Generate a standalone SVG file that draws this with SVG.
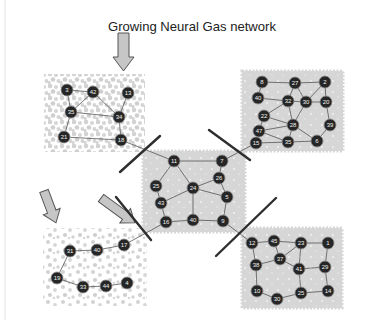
<svg xmlns="http://www.w3.org/2000/svg" width="371" height="320" viewBox="0 0 371 320">
<defs>
<pattern id="sparse" width="12" height="12" patternUnits="userSpaceOnUse">
<circle cx="2" cy="2" r="2.3" fill="#d2d2d2"/><circle cx="8" cy="3" r="2.1" fill="#d6d6d6"/><circle cx="5" cy="7.5" r="2.3" fill="#cfcfcf"/><circle cx="10.5" cy="9" r="2" fill="#d4d4d4"/><circle cx="1" cy="10.5" r="1.8" fill="#d6d6d6"/>
</pattern>
<pattern id="sparse2" width="15" height="15" patternUnits="userSpaceOnUse">
<circle cx="3" cy="2" r="2" fill="#d2d2d2"/><circle cx="10" cy="5" r="1.9" fill="#d6d6d6"/><circle cx="5" cy="10" r="2.1" fill="#cfcfcf"/><circle cx="13" cy="12" r="1.7" fill="#d4d4d4"/><circle cx="9" cy="13" r="1.3" fill="#d8d8d8"/>
</pattern>
<pattern id="dense" width="11" height="11" patternUnits="userSpaceOnUse">
<rect width="11" height="11" fill="#d6d6d6"/><circle cx="3" cy="4" r="0.9" fill="#f4f4f4"/><circle cx="8" cy="9" r="0.7" fill="#eeeeee"/>
</pattern>
</defs>
<style>
.e{stroke:#555;stroke-width:0.8;fill:none}
.cut{stroke:#2e2e2e;stroke-width:2.4;stroke-linecap:round}
.arrow{fill:#c6c6c6;stroke:#555;stroke-width:1}
.rag{stroke:#d6d6d6;stroke-width:3;stroke-dasharray:2 1.5}
.n circle{fill:#262626;stroke:#8a8a8a;stroke-width:0.8}
.n text{fill:#f0f0f0;font-family:"Liberation Sans",Arial,sans-serif;font-size:6px;text-anchor:middle;dominant-baseline:central}
.title{font-family:"Liberation Sans",Arial,sans-serif;font-size:13px;fill:#222;text-anchor:middle}
</style>
<rect width="371" height="320" fill="#ffffff"/>
<line x1="5" y1="0" x2="5" y2="320" stroke="#e2e2e2" stroke-width="1"/>
<text class="title" x="192" y="31" textLength="168" lengthAdjust="spacingAndGlyphs">Growing Neural Gas network</text>

<g id="regions">
<rect x="44" y="74" width="101" height="78" fill="url(#sparse)"/>
<rect class="rag" x="242" y="71" width="101" height="80" fill="url(#dense)"/>
<rect class="rag" x="143" y="151" width="102" height="81" fill="url(#dense)"/>
<rect x="43" y="228" width="104" height="78" fill="url(#sparse2)"/>
<rect class="rag" x="242" y="228" width="100" height="80" fill="url(#dense)"/>
</g>

<g id="arrows">
<polygon class="arrow" points="118,33 129,33 129,57 134,57 123.5,71 113,57 118,57"/>
<polygon class="arrow" transform="translate(44,191) rotate(69.4)" points="0,-4.5 22,-4.5 22,-9 34,0 22,9 22,4.5 0,4.5"/>
<polygon class="arrow" transform="translate(101,198) rotate(36.3)" points="0,-4.5 30,-4.5 30,-9 42,0 30,9 30,4.5 0,4.5"/>
</g>

<g id="connectors">
<line class="e" x1="67" y1="90" x2="93" y2="92"/>
<line class="e" x1="67" y1="90" x2="71" y2="112"/>
<line class="e" x1="93" y1="92" x2="71" y2="112"/>
<line class="e" x1="93" y1="92" x2="119" y2="117"/>
<line class="e" x1="128" y1="93" x2="119" y2="117"/>
<line class="e" x1="71" y1="112" x2="119" y2="117"/>
<line class="e" x1="71" y1="112" x2="64" y2="137"/>
<line class="e" x1="64" y1="137" x2="121" y2="140"/>
<line class="e" x1="119" y1="117" x2="121" y2="140"/>
<line class="e" x1="121" y1="140" x2="174" y2="161"/>
<line class="e" x1="262" y1="82" x2="295" y2="83"/>
<line class="e" x1="295" y1="83" x2="325" y2="82"/>
<line class="e" x1="262" y1="82" x2="258" y2="98"/>
<line class="e" x1="258" y1="98" x2="288" y2="101"/>
<line class="e" x1="295" y1="83" x2="288" y2="101"/>
<line class="e" x1="295" y1="83" x2="306" y2="102"/>
<line class="e" x1="325" y1="82" x2="306" y2="102"/>
<line class="e" x1="325" y1="82" x2="326" y2="102"/>
<line class="e" x1="288" y1="101" x2="306" y2="102"/>
<line class="e" x1="306" y1="102" x2="326" y2="102"/>
<line class="e" x1="288" y1="101" x2="264" y2="116"/>
<line class="e" x1="288" y1="101" x2="293" y2="125"/>
<line class="e" x1="306" y1="102" x2="293" y2="125"/>
<line class="e" x1="264" y1="116" x2="293" y2="125"/>
<line class="e" x1="264" y1="116" x2="259" y2="131"/>
<line class="e" x1="259" y1="131" x2="293" y2="125"/>
<line class="e" x1="259" y1="131" x2="256" y2="143"/>
<line class="e" x1="259" y1="131" x2="288" y2="142"/>
<line class="e" x1="256" y1="143" x2="288" y2="142"/>
<line class="e" x1="293" y1="125" x2="288" y2="142"/>
<line class="e" x1="293" y1="125" x2="317" y2="141"/>
<line class="e" x1="288" y1="142" x2="317" y2="141"/>
<line class="e" x1="326" y1="102" x2="330" y2="125"/>
<line class="e" x1="330" y1="125" x2="317" y2="141"/>
<line class="e" x1="256" y1="143" x2="222" y2="161"/>
<line class="e" x1="174" y1="161" x2="222" y2="161"/>
<line class="e" x1="174" y1="161" x2="156" y2="186"/>
<line class="e" x1="174" y1="161" x2="193" y2="188"/>
<line class="e" x1="222" y1="161" x2="219" y2="178"/>
<line class="e" x1="219" y1="178" x2="193" y2="188"/>
<line class="e" x1="219" y1="178" x2="227" y2="197"/>
<line class="e" x1="193" y1="188" x2="227" y2="197"/>
<line class="e" x1="193" y1="188" x2="161" y2="203"/>
<line class="e" x1="156" y1="186" x2="161" y2="203"/>
<line class="e" x1="161" y1="203" x2="166" y2="222"/>
<line class="e" x1="193" y1="188" x2="193" y2="220"/>
<line class="e" x1="166" y1="222" x2="193" y2="220"/>
<line class="e" x1="193" y1="220" x2="223" y2="221"/>
<line class="e" x1="227" y1="197" x2="223" y2="221"/>
<line class="e" x1="166" y1="222" x2="124" y2="245"/>
<line class="e" x1="223" y1="221" x2="252" y2="243"/>
<line class="e" x1="70" y1="251" x2="97" y2="250"/>
<line class="e" x1="97" y1="250" x2="124" y2="245"/>
<line class="e" x1="70" y1="251" x2="57" y2="278"/>
<line class="e" x1="57" y1="278" x2="83" y2="287"/>
<line class="e" x1="83" y1="287" x2="106" y2="286"/>
<line class="e" x1="106" y1="286" x2="127" y2="283"/>
<line class="e" x1="252" y1="243" x2="274" y2="241"/>
<line class="e" x1="274" y1="241" x2="301" y2="243"/>
<line class="e" x1="301" y1="243" x2="328" y2="243"/>
<line class="e" x1="274" y1="241" x2="280" y2="259"/>
<line class="e" x1="280" y1="259" x2="301" y2="243"/>
<line class="e" x1="301" y1="243" x2="299" y2="269"/>
<line class="e" x1="280" y1="259" x2="299" y2="269"/>
<line class="e" x1="252" y1="243" x2="256" y2="265"/>
<line class="e" x1="256" y1="265" x2="280" y2="259"/>
<line class="e" x1="328" y1="243" x2="325" y2="267"/>
<line class="e" x1="299" y1="269" x2="325" y2="267"/>
<line class="e" x1="256" y1="265" x2="257" y2="291"/>
<line class="e" x1="257" y1="291" x2="277" y2="299"/>
<line class="e" x1="277" y1="299" x2="301" y2="293"/>
<line class="e" x1="299" y1="269" x2="301" y2="293"/>
<line class="e" x1="301" y1="293" x2="328" y2="291"/>
<line class="e" x1="325" y1="267" x2="328" y2="291"/>
</g>

<g id="cuts">
<line class="cut" x1="120" y1="172" x2="160" y2="136"/>
<line class="cut" x1="209" y1="130" x2="250" y2="160"/>
<line class="cut" x1="216" y1="256" x2="276" y2="198"/>
<line class="cut" x1="116" y1="197" x2="151" y2="240"/>
</g>

<g id="tl-nodes">
<g id="n-tl-3" class="n"><circle cx="67" cy="90" r="6"/><text x="67" y="90">3</text></g>
<g id="n-tl-42" class="n"><circle cx="93" cy="92" r="6"/><text x="93" y="92">42</text></g>
<g id="n-tl-13" class="n"><circle cx="128" cy="93" r="6"/><text x="128" y="93">13</text></g>
<g id="n-tl-35" class="n"><circle cx="71" cy="112" r="6"/><text x="71" y="112">35</text></g>
<g id="n-tl-34" class="n"><circle cx="119" cy="117" r="6"/><text x="119" y="117">34</text></g>
<g id="n-tl-21" class="n"><circle cx="64" cy="137" r="6"/><text x="64" y="137">21</text></g>
<g id="n-tl-18" class="n"><circle cx="121" cy="140" r="6"/><text x="121" y="140">18</text></g>
</g>

<g id="tr-nodes">
<g id="n-tr-8" class="n"><circle cx="262" cy="82" r="6"/><text x="262" y="82">8</text></g>
<g id="n-tr-27" class="n"><circle cx="295" cy="83" r="6"/><text x="295" y="83">27</text></g>
<g id="n-tr-2" class="n"><circle cx="325" cy="82" r="6"/><text x="325" y="82">2</text></g>
<g id="n-tr-40" class="n"><circle cx="258" cy="98" r="6"/><text x="258" y="98">40</text></g>
<g id="n-tr-32" class="n"><circle cx="288" cy="101" r="6"/><text x="288" y="101">32</text></g>
<g id="n-tr-30" class="n"><circle cx="306" cy="102" r="6"/><text x="306" y="102">30</text></g>
<g id="n-tr-20" class="n"><circle cx="326" cy="102" r="6"/><text x="326" y="102">20</text></g>
<g id="n-tr-22" class="n"><circle cx="264" cy="116" r="6"/><text x="264" y="116">22</text></g>
<g id="n-tr-28" class="n"><circle cx="293" cy="125" r="6"/><text x="293" y="125">28</text></g>
<g id="n-tr-39" class="n"><circle cx="330" cy="125" r="6"/><text x="330" y="125">39</text></g>
<g id="n-tr-47" class="n"><circle cx="259" cy="131" r="6"/><text x="259" y="131">47</text></g>
<g id="n-tr-15" class="n"><circle cx="256" cy="143" r="6"/><text x="256" y="143">15</text></g>
<g id="n-tr-35" class="n"><circle cx="288" cy="142" r="6"/><text x="288" y="142">35</text></g>
<g id="n-tr-6" class="n"><circle cx="317" cy="141" r="6"/><text x="317" y="141">6</text></g>
</g>

<g id="c-nodes">
<g id="n-c-11" class="n"><circle cx="174" cy="161" r="6"/><text x="174" y="161">11</text></g>
<g id="n-c-7" class="n"><circle cx="222" cy="161" r="6"/><text x="222" y="161">7</text></g>
<g id="n-c-26" class="n"><circle cx="219" cy="178" r="6"/><text x="219" y="178">26</text></g>
<g id="n-c-25" class="n"><circle cx="156" cy="186" r="6"/><text x="156" y="186">25</text></g>
<g id="n-c-24" class="n"><circle cx="193" cy="188" r="6"/><text x="193" y="188">24</text></g>
<g id="n-c-5" class="n"><circle cx="227" cy="197" r="6"/><text x="227" y="197">5</text></g>
<g id="n-c-43" class="n"><circle cx="161" cy="203" r="6"/><text x="161" y="203">43</text></g>
<g id="n-c-16" class="n"><circle cx="166" cy="222" r="6"/><text x="166" y="222">16</text></g>
<g id="n-c-40" class="n"><circle cx="193" cy="220" r="6"/><text x="193" y="220">40</text></g>
<g id="n-c-9" class="n"><circle cx="223" cy="221" r="6"/><text x="223" y="221">9</text></g>
</g>

<g id="bl-nodes">
<g id="n-bl-31" class="n"><circle cx="70" cy="251" r="6"/><text x="70" y="251">31</text></g>
<g id="n-bl-40" class="n"><circle cx="97" cy="250" r="6"/><text x="97" y="250">40</text></g>
<g id="n-bl-17" class="n"><circle cx="124" cy="245" r="6"/><text x="124" y="245">17</text></g>
<g id="n-bl-19" class="n"><circle cx="57" cy="278" r="6"/><text x="57" y="278">19</text></g>
<g id="n-bl-33" class="n"><circle cx="83" cy="287" r="6"/><text x="83" y="287">33</text></g>
<g id="n-bl-44" class="n"><circle cx="106" cy="286" r="6"/><text x="106" y="286">44</text></g>
<g id="n-bl-4" class="n"><circle cx="127" cy="283" r="6"/><text x="127" y="283">4</text></g>
</g>

<g id="br-nodes">
<g id="n-br-12" class="n"><circle cx="252" cy="243" r="6"/><text x="252" y="243">12</text></g>
<g id="n-br-45" class="n"><circle cx="274" cy="241" r="6"/><text x="274" y="241">45</text></g>
<g id="n-br-23" class="n"><circle cx="301" cy="243" r="6"/><text x="301" y="243">23</text></g>
<g id="n-br-1" class="n"><circle cx="328" cy="243" r="6"/><text x="328" y="243">1</text></g>
<g id="n-br-37" class="n"><circle cx="280" cy="259" r="6"/><text x="280" y="259">37</text></g>
<g id="n-br-38" class="n"><circle cx="256" cy="265" r="6"/><text x="256" y="265">38</text></g>
<g id="n-br-41" class="n"><circle cx="299" cy="269" r="6"/><text x="299" y="269">41</text></g>
<g id="n-br-29" class="n"><circle cx="325" cy="267" r="6"/><text x="325" y="267">29</text></g>
<g id="n-br-10" class="n"><circle cx="257" cy="291" r="6"/><text x="257" y="291">10</text></g>
<g id="n-br-30" class="n"><circle cx="277" cy="299" r="6"/><text x="277" y="299">30</text></g>
<g id="n-br-25" class="n"><circle cx="301" cy="293" r="6"/><text x="301" y="293">25</text></g>
<g id="n-br-14" class="n"><circle cx="328" cy="291" r="6"/><text x="328" y="291">14</text></g>
</g>
</svg>
